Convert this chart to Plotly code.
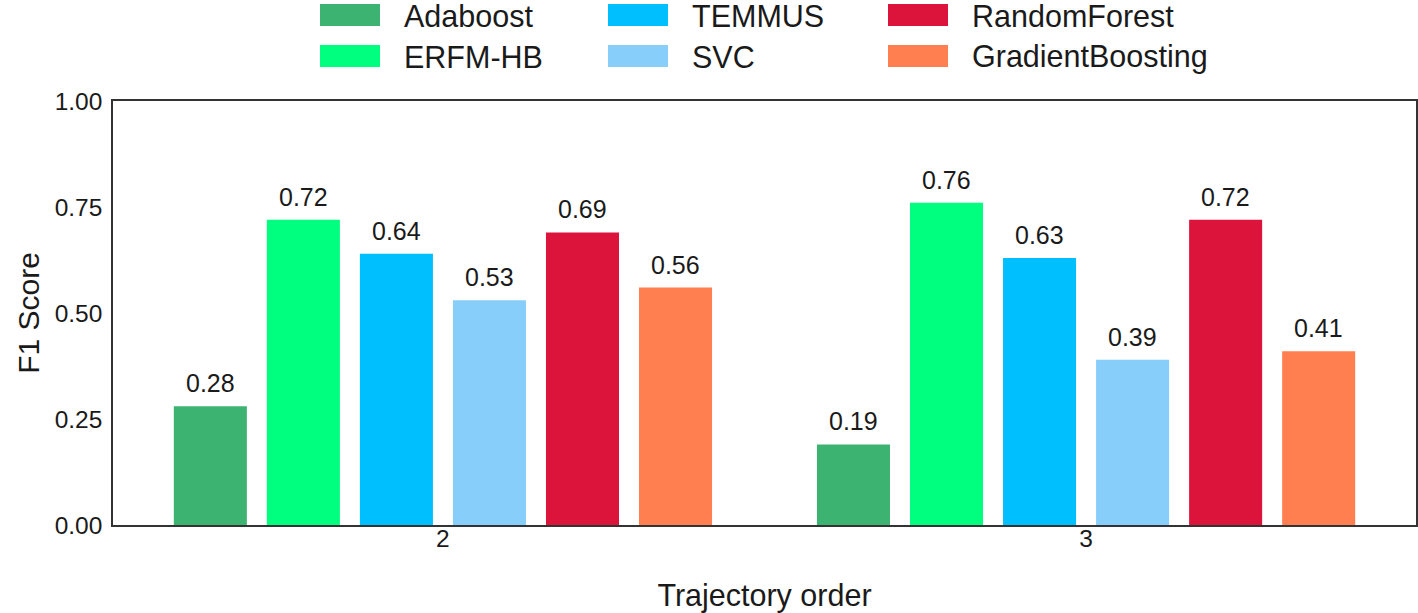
import plotly.graph_objects as go

categories = ["2", "3"]
series_names = ["Adaboost", "ERFM-HB", "TEMMUS", "SVC", "RandomForest", "GradientBoosting"]
series_values = [
    [0.28, 0.19],
    [0.72, 0.76],
    [0.64, 0.63],
    [0.53, 0.39],
    [0.69, 0.72],
    [0.56, 0.41],
]
colors = ["#3CB371", "#00FF7F", "#00BFFF", "#87CEFA", "#DC143C", "#FF7F50"]
y_ticks = [0.0, 0.25, 0.5, 0.75, 1.0]

FONT = "Liberation Sans, Arial, Helvetica, sans-serif"
W, H = 1418, 613
ML, MR, MT, MB = 113, 2, 101, 88
BARGAP = 0.132
GROUPGAP = 0.215

fig = go.Figure()
for name, vals, col in zip(series_names, series_values, colors):
    fig.add_trace(go.Bar(
        x=categories, y=vals, name=name,
        marker=dict(color=col, line=dict(width=0)),
        showlegend=False, hoverinfo="x+y+name",
    ))

# value labels above bars
n = len(series_names)
slot = (1 - BARGAP) / n
annotations = []
for i, vals in enumerate(series_values):
    for g, v in enumerate(vals):
        annotations.append(dict(
            x=g + (i - (n - 1) / 2) * slot, y=v, xref="x", yref="y",
            text=f"{v:.2f}", showarrow=False, yanchor="bottom", yshift=7,
            font=dict(family=FONT, size=25, color="#1a1a1a"),
        ))

# custom legend (large swatches) in paper coords
pw = W - ML - MR
ph = H - MT - MB
def px_x(p):
    return (p - ML) / pw
def px_y(p):
    return (H - MB - p) / ph

col_x = [320, 608, 888]
row_y = [15, 56]
shapes = []
for k, (name, col) in enumerate(zip(series_names, colors)):
    c = k // 2
    r = k % 2
    x0 = col_x[c]
    yc = row_y[r]
    shapes.append(dict(type="rect", xref="paper", yref="paper",
                       x0=px_x(x0), x1=px_x(x0 + 60),
                       y0=px_y(yc + 11), y1=px_y(yc - 11),
                       fillcolor=col, line=dict(width=0)))
    annotations.append(dict(xref="paper", yref="paper", x=px_x(x0 + 82), y=px_y(yc + 1),
                            text=name, showarrow=False, xanchor="left", yanchor="middle",
                            font=dict(family=FONT, size=30.5, color="#1a1a1a")))

fig.update_layout(
    width=W, height=H,
    margin=dict(l=ML, r=MR, t=MT, b=MB, autoexpand=False),
    paper_bgcolor="white", plot_bgcolor="white",
    barmode="group", bargap=BARGAP, bargroupgap=GROUPGAP,
    font=dict(family=FONT, color="#1a1a1a"),
    annotations=annotations, shapes=shapes,
    xaxis=dict(
        type="category", range=[-0.513, 1.513],
        showline=True, linecolor="#333333", linewidth=1.5, mirror=True,
        showgrid=False, zeroline=False, ticks="", ticklabelstandoff=-9,
        tickfont=dict(size=24.5),
        title=dict(text="Trajectory order", font=dict(size=30.5), standoff=40),
    ),
    yaxis=dict(
        range=[0, 1.0], tickvals=y_ticks, ticktext=[f"{t:.2f}" for t in y_ticks],
        showline=True, linecolor="#333333", linewidth=1.5, mirror=True,
        showgrid=False, zeroline=False, ticks="", ticklabelstandoff=4,
        tickfont=dict(size=24.5),
        title=dict(text="F1 Score", font=dict(size=30), standoff=6),
    ),
)

fig.write_html("out.html", config={"displayModeBar": False},
               post_script="document.body.style.margin='0';document.body.style.overflow='hidden';")
